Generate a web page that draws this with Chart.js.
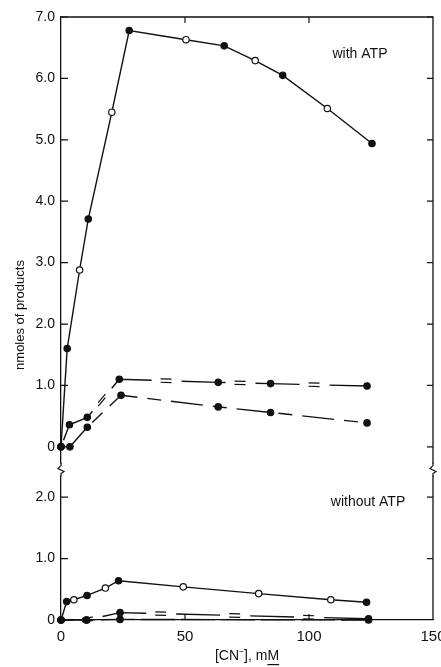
<!DOCTYPE html>
<html>
<head>
<meta charset="utf-8">
<script src="https://cdn.jsdelivr.net/npm/chart.js@4.4.0/dist/chart.umd.min.js"></script>
<style>
  html, body { margin: 0; padding: 0; background: #fff; }
</style>
</head>
<body>
<canvas id="chart" width="441" height="667"></canvas>
<script>
// ========== data ==========
const X_TICKS = [0, 50, 100, 150];
const Y_TICKS_TOP = [0, 1, 2, 3, 4, 5, 6, 7];
const Y_TICKS_LOW = [0, 1, 2];

// with ATP
const ATP_SOLID_X = [0, 2.5, 7.5, 11, 20.5, 27.5, 50.4, 65.8, 78.3, 89.4, 107.4, 125.4];
const ATP_SOLID_Y = [0, 1.6, 2.88, 3.71, 5.45, 6.78, 6.63, 6.53, 6.29, 6.05, 5.51, 4.94];
const ATP_SOLID_OPEN = [2, 4, 6, 8, 10]; // indexes drawn as open circles

const ATP_EQ_X = [0, 3.4, 10.6, 23.5, 63.4, 84.5, 123.4];
const ATP_EQ_Y = [0, 0.36, 0.48, 1.10, 1.05, 1.03, 0.99];

const ATP_DASH_X = [0, 3.6, 10.6, 24.2, 63.4, 84.5, 123.4];
const ATP_DASH_Y = [0, 0.0, 0.32, 0.84, 0.65, 0.56, 0.39];

// without ATP
const NOATP_SOLID_X = [0, 2.3, 5.2, 10.5, 17.9, 23.2, 49.3, 79.7, 108.8, 123.2];
const NOATP_SOLID_Y = [0, 0.30, 0.33, 0.40, 0.52, 0.64, 0.54, 0.43, 0.33, 0.29];
const NOATP_SOLID_OPEN = [2, 4, 6, 7, 8];

const NOATP_EQ_X = [0, 10.3, 23.8, 124];
const NOATP_EQ_Y = [0, 0, 0.12, 0.02];

const NOATP_DASH_X = [0, 10.3, 23.8, 124];
const NOATP_DASH_Y = [0, 0, 0.01, 0.0];

// ========== helpers ==========
const INK = "#111";
const FONT = "'Liberation Sans Narrow', 'Liberation Sans', Arial, sans-serif";

const pts = (xs, ys) => xs.map((x, i) => ({ x, y: ys[i] }));
const fills = (n, open = []) =>
  Array.from({ length: n }, (_, i) => (open.includes(i) ? "#fff" : INK));

function series(xs, ys, axis, opts = {}) {
  return {
    data: pts(xs, ys),
    yAxisID: axis,
    borderColor: INK,
    borderWidth: 1.4,
    pointRadius: 3.2,
    pointBorderWidth: 1.2,
    pointBorderColor: INK,
    pointBackgroundColor: fills(xs.length, opts.open),
    borderDash: opts.dash || [],
    borderDashOffset: opts.dashOffset || 0,
    eqDash: opts.eq || null,
    tension: 0,
    clip: 10,
  };
}

const fixedTicks = (list) => (scale) => {
  scale.ticks = list.map((v) => ({ value: v }));
};
const yLabel = (v) => (v === 0 ? "0" : v.toFixed(1));

// ========== plugin: frame, inward ticks, break marks, texts ==========
const framePlugin = {
  id: "frame",
  afterDatasetsDraw(chart) {
    // the double strokes of the "=" marks
    const ctx = chart.ctx;
    chart.data.datasets.forEach((ds, i) => {
      if (!ds.eqDash) return;
      const pts = chart.getDatasetMeta(i).data;
      [-1.7, 1.7].forEach((dy) => {
        ctx.save();
        ctx.strokeStyle = INK;
        ctx.lineWidth = 1.2;
        ctx.setLineDash(ds.eqDash);
        ctx.lineDashOffset = ds.borderDashOffset;
        ctx.beginPath();
        pts.forEach((p, k) => (k ? ctx.lineTo(p.x, p.y + dy) : ctx.moveTo(p.x, p.y + dy)));
        ctx.stroke();
        ctx.restore();
      });
    });
  },
  afterDraw(chart) {
    const { ctx, chartArea: a, scales } = chart;
    const top = scales.yTop, low = scales.yLow, x = scales.x;
    ctx.save();
    ctx.strokeStyle = INK;
    ctx.lineWidth = 1.3;

    // top and right border
    ctx.beginPath();
    ctx.moveTo(a.left, a.top);
    ctx.lineTo(a.right, a.top);
    ctx.lineTo(a.right, a.bottom);
    ctx.stroke();

    // inward ticks
    ctx.lineWidth = 1.2;
    ctx.beginPath();
    [[top, Y_TICKS_TOP.filter((v) => v > 0)], [low, Y_TICKS_LOW.filter((v) => v > 0)]].forEach(([s, list]) => {
      list.forEach((v) => {
        const y = s.getPixelForValue(v);
        ctx.moveTo(a.left, y); ctx.lineTo(a.left + 7, y);
        ctx.moveTo(a.right, y); ctx.lineTo(a.right - 6, y);
      });
    });
    const y0 = top.getPixelForValue(0);
    ctx.moveTo(a.right, y0); ctx.lineTo(a.right - 6, y0);
    X_TICKS.slice(1, -1).forEach((v) => {
      const px = x.getPixelForValue(v);
      ctx.moveTo(px, a.top); ctx.lineTo(px, a.top + 6);
      ctx.moveTo(px, a.bottom); ctx.lineTo(px, a.bottom - 6);
    });
    ctx.stroke();

    // axis break squiggles
    const yb = top.bottom;
    [a.left, a.right].forEach((bx) => {
      ctx.fillStyle = "#fff";
      ctx.fillRect(bx - 2, yb - 6, 4, 12);
      ctx.beginPath();
      ctx.moveTo(bx, yb - 7);
      ctx.lineTo(bx, yb - 4);
      ctx.lineTo(bx - 3, yb - 1);
      ctx.lineTo(bx + 3, yb + 2);
      ctx.lineTo(bx, yb + 4);
      ctx.lineTo(bx, yb + 7);
      ctx.stroke();
    });

    // texts
    ctx.fillStyle = INK;
    ctx.font = "14px " + FONT;
    ctx.textAlign = "center";
    ctx.textBaseline = "middle";
    ctx.fillText("with ATP", 360, 54);
    ctx.fillText("without ATP", 368, 502);

    ctx.save();
    ctx.translate(20, 315);
    ctx.rotate(-Math.PI / 2);
    ctx.font = "13px " + FONT;
    ctx.fillText("nmoles of products", 0, 0);
    ctx.restore();

    // underline the M of the x title
    const t = x.options.title;
    ctx.font = t.font.size + "px " + FONT;
    const w = ctx.measureText(t.text).width;
    const mw = ctx.measureText("M").width;
    const cx = (a.left + a.right) / 2;
    const ty = x.bottom - t.padding.bottom - (t.font.size * 1.2) / 2;
    ctx.lineWidth = 1.2;
    ctx.beginPath();
    ctx.moveTo(cx + w / 2 - mw, ty + 8);
    ctx.lineTo(cx + w / 2, ty + 8);
    ctx.stroke();
    ctx.restore();
  },
};

// ========== chart ==========
const yCommon = {
  type: "linear",
  position: "left",
  stack: "v",
  grid: { display: false, drawTicks: false },
  border: { display: true, color: INK, width: 1.3 },
  ticks: { color: INK, padding: 6, font: { size: 14, family: FONT }, callback: yLabel },
  afterFit: (s) => { s.width = 61; },
};

new Chart(document.getElementById("chart"), {
  type: "line",
  data: {
    datasets: [
      series(ATP_SOLID_X, ATP_SOLID_Y, "yTop", { open: ATP_SOLID_OPEN }),
      series(ATP_EQ_X, ATP_EQ_Y, "yTop", { dash: [44, 30], dashOffset: -7, eq: [0, 53, 11, 10] }),
      series(ATP_DASH_X, ATP_DASH_Y, "yTop", { dash: [32, 10, 14, 10], dashOffset: 0 }),
      series(NOATP_SOLID_X, NOATP_SOLID_Y, "yLow", { open: NOATP_SOLID_OPEN }),
      series(NOATP_EQ_X, NOATP_EQ_Y, "yLow", { dash: [44, 30], dashOffset: 32, eq: [0, 53, 11, 10] }),
      series(NOATP_DASH_X, NOATP_DASH_Y, "yLow", { dash: [34, 6] }),
    ],
  },
  options: {
    responsive: false,
    animation: false,
    events: [],
    layout: { padding: { left: 0, right: 8, top: 17, bottom: 0 } },
    plugins: { legend: { display: false }, tooltip: { enabled: false } },
    scales: {
      x: {
        type: "linear",
        min: 0,
        max: 150,
        afterBuildTicks: fixedTicks(X_TICKS),
        grid: { display: false, drawTicks: false },
        border: { display: true, color: INK, width: 1.3 },
        ticks: { color: INK, padding: 8, maxRotation: 0, autoSkip: false, font: { size: 15, family: FONT } },
        title: {
          display: true,
          text: "[CN\u207B], mM",
          color: INK,
          font: { size: 14, family: FONT },
          padding: { top: 0, bottom: 2 },
        },
        afterFit: (s) => {
          s.height = 47;
          s.paddingLeft = 0;
          s.paddingRight = 0;
        },
      },
      yLow: {
        ...yCommon,
        stackWeight: 2.45,
        min: 0,
        max: 2.45,
        afterBuildTicks: fixedTicks(Y_TICKS_LOW),
      },
      yTop: {
        ...yCommon,
        stackWeight: 7.37,
        min: -0.37,
        max: 7.0,
        afterBuildTicks: fixedTicks(Y_TICKS_TOP),
      },
    },
  },
  plugins: [framePlugin],
});
</script>
</body>
</html>
